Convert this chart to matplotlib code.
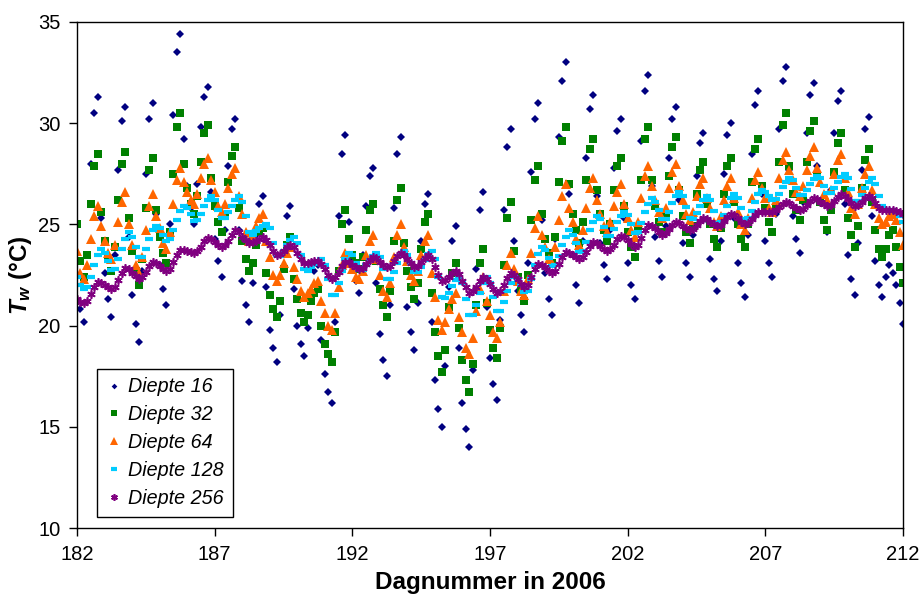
import matplotlib
matplotlib.use('Agg')
import matplotlib.pyplot as plt
import numpy as np

plt.rcParams['font.family'] = ['Liberation Sans', 'DejaVu Sans']
plt.rcParams['mathtext.fontset'] = 'custom'
plt.rcParams['mathtext.it'] = 'Liberation Sans:italic:bold'
plt.rcParams['mathtext.rm'] = 'Liberation Sans:bold'
plt.rcParams['mathtext.bf'] = 'Liberation Sans:bold'

# ---- data: water temperature, 3-hourly readings (8 per day), day 182.0 .. 212.0 ----
first_day = 182
samples_per_day = 8

diepte_16 = [
    22.5, 20.8, 20.2, 23.5, 28.0, 30.5, 31.3, 25.3,
    22.6, 21.3, 20.4, 23.5, 27.7, 30.1, 30.8, 24.4,
    21.5, 20.1, 19.2, 22.7, 27.5, 30.2, 31.0, 25.5,
    23.0, 21.8, 21.0, 25.0, 30.4, 33.5, 34.4, 29.2,
    26.9, 25.8, 25.0, 27.0, 29.8, 31.3, 31.8, 26.6,
    24.3, 23.2, 22.4, 24.7, 27.9, 29.7, 30.2, 24.7,
    22.2, 21.0, 20.2, 22.1, 24.5, 26.0, 26.4, 21.9,
    19.8, 18.9, 18.2, 20.5, 23.6, 25.4, 25.9, 21.8,
    20.0, 19.1, 18.5, 19.9, 21.7, 22.7, 23.0, 19.3,
    17.6, 16.7, 16.2, 20.2, 25.4, 28.5, 29.4, 25.1,
    23.2, 22.2, 21.6, 23.5, 25.9, 27.4, 27.8, 22.1,
    19.6, 18.3, 17.5, 21.0, 25.8, 28.5, 29.3, 23.5,
    20.9, 19.7, 18.8, 21.1, 24.2, 26.0, 26.5, 20.2,
    17.3, 15.9, 15.0, 18.0, 21.9, 24.2, 24.9, 18.9,
    16.2, 14.9, 14.0, 17.8, 22.8, 25.7, 26.6, 20.9,
    18.4, 17.1, 16.3, 20.3, 25.7, 28.8, 29.7, 24.2,
    21.7, 20.5, 19.7, 23.1, 27.6, 30.2, 31.0, 25.2,
    22.6, 21.3, 20.5, 24.3, 29.3, 32.1, 33.0, 26.5,
    23.5, 22.0, 21.1, 24.2, 28.3, 30.7, 31.4, 26.4,
    24.1, 23.0, 22.3, 24.7, 27.8, 29.6, 30.2, 25.3,
    23.1, 22.0, 21.3, 24.6, 29.1, 31.6, 32.4, 26.9,
    24.4, 23.2, 22.4, 24.9, 28.3, 30.2, 30.8, 26.2,
    24.1, 23.1, 22.4, 24.5, 27.4, 29.0, 29.5, 25.2,
    23.3, 22.3, 21.7, 24.2, 27.5, 29.4, 30.0, 25.3,
    23.1, 22.1, 21.4, 24.5, 28.5, 30.9, 31.6, 26.5,
    24.2, 23.1, 22.4, 25.5, 29.7, 32.1, 32.8, 27.7,
    25.4, 24.3, 23.6, 26.1, 29.5, 31.4, 32.0, 27.9,
    26.1, 25.2, 24.6, 26.7, 29.5, 31.1, 31.6, 26.0,
    23.5, 22.3, 21.5, 24.1, 27.7, 29.7, 30.3, 25.4,
    23.2, 22.0, 21.4, 22.4, 23.0, 22.6, 22.0, 21.1,
    20.1,
]

diepte_32 = [
    25.0, 23.2, 22.4, 23.5, 26.0, 27.9, 28.5, 25.6,
    24.2, 23.3, 22.7, 23.9, 26.2, 28.0, 28.6, 25.3,
    23.7, 22.7, 22.0, 23.3, 25.8, 27.7, 28.3, 25.7,
    24.4, 23.6, 23.1, 24.6, 27.5, 29.8, 30.5, 28.0,
    26.8, 26.0, 25.5, 26.4, 28.1, 29.5, 29.9, 27.3,
    25.9, 25.1, 24.6, 25.4, 27.1, 28.4, 28.8, 25.8,
    24.2, 23.3, 22.7, 23.1, 24.0, 24.6, 24.8, 22.6,
    21.5, 20.8, 20.4, 21.2, 22.8, 24.0, 24.4, 22.3,
    21.3, 20.6, 20.2, 20.5, 21.2, 21.6, 21.8, 20.0,
    19.1, 18.6, 18.2, 19.7, 22.7, 25.0, 25.7, 24.3,
    23.5, 23.1, 22.8, 23.4, 24.7, 25.7, 26.0, 23.2,
    21.8, 21.0, 20.4, 21.7, 24.2, 26.2, 26.8, 24.1,
    22.7, 21.9, 21.3, 22.1, 23.8, 25.1, 25.5, 21.6,
    19.7, 18.5, 17.7, 18.8, 20.9, 22.6, 23.1, 19.9,
    18.3, 17.3, 16.7, 18.1, 21.0, 23.1, 23.8, 21.1,
    19.8, 18.9, 18.4, 19.9, 23.0, 25.3, 26.1, 23.7,
    22.4, 21.7, 21.2, 22.5, 25.2, 27.2, 27.9, 25.5,
    24.3, 23.6, 23.1, 24.4, 27.1, 29.1, 29.8, 27.0,
    25.5, 24.7, 24.1, 25.1, 27.2, 28.7, 29.2, 26.7,
    25.5, 24.7, 24.2, 25.0, 26.7, 27.9, 28.3, 25.9,
    24.6, 23.9, 23.4, 24.7, 27.2, 29.2, 29.8, 27.2,
    25.9, 25.1, 24.6, 25.5, 27.4, 28.8, 29.3, 26.7,
    25.4, 24.6, 24.1, 24.9, 26.5, 27.7, 28.1, 26.0,
    25.0, 24.3, 23.9, 24.8, 26.5, 27.9, 28.3, 26.1,
    25.0, 24.3, 23.9, 25.0, 27.1, 28.7, 29.2, 26.9,
    25.8, 25.1, 24.6, 25.8, 28.1, 29.9, 30.5, 27.9,
    26.5, 25.7, 25.2, 26.2, 28.1, 29.6, 30.1, 27.4,
    26.1, 25.2, 24.7, 25.7, 27.6, 29.0, 29.5, 26.7,
    25.3, 24.5, 23.9, 24.9, 26.8, 28.2, 28.7, 26.1,
    24.7, 23.8, 23.4, 23.8, 24.5, 24.7, 23.9, 22.9,
    22.1,
]

diepte_64 = [
    23.7, 22.6, 22.3, 23.0, 24.3, 25.4, 25.9, 24.9,
    24.2, 23.6, 23.3, 24.0, 25.1, 26.1, 26.6, 25.0,
    24.0, 23.0, 22.6, 23.4, 24.7, 25.9, 26.5, 25.4,
    24.8, 24.1, 23.8, 24.6, 26.0, 27.2, 27.8, 27.1,
    26.6, 26.2, 26.0, 26.5, 27.3, 28.0, 28.3, 27.2,
    26.6, 25.9, 25.6, 26.0, 26.8, 27.5, 27.8, 26.4,
    25.5, 24.6, 24.2, 24.5, 24.9, 25.3, 25.5, 24.2,
    23.4, 22.5, 22.2, 22.5, 23.1, 23.6, 23.9, 22.9,
    22.3, 21.7, 21.4, 21.6, 21.8, 22.1, 22.2, 21.2,
    20.6, 20.0, 19.8, 20.6, 21.9, 23.0, 23.6, 23.1,
    22.8, 22.4, 22.3, 22.7, 23.5, 24.2, 24.5, 23.3,
    22.5, 21.7, 21.4, 22.1, 23.4, 24.5, 25.0, 23.9,
    23.2, 22.5, 22.2, 22.7, 23.5, 24.2, 24.5, 22.6,
    21.4, 20.3, 19.8, 20.2, 20.8, 21.3, 21.6, 20.4,
    19.7, 18.9, 18.6, 19.4, 20.7, 21.8, 22.4, 21.2,
    20.5, 19.7, 19.4, 20.2, 21.7, 23.0, 23.6, 22.8,
    22.2, 21.7, 21.5, 22.3, 23.6, 24.8, 25.4, 24.5,
    23.9, 23.3, 23.1, 23.9, 25.2, 26.4, 27.0, 25.8,
    25.1, 24.3, 24.0, 24.7, 25.8, 26.8, 27.3, 26.2,
    25.5, 24.9, 24.6, 25.1, 25.9, 26.6, 27.0, 26.0,
    25.3, 24.7, 24.4, 25.1, 26.3, 27.4, 27.9, 26.9,
    26.2, 25.6, 25.3, 25.8, 26.8, 27.6, 28.0, 26.9,
    26.2, 25.5, 25.2, 25.6, 26.4, 27.0, 27.3, 26.3,
    25.8, 25.1, 24.9, 25.4, 26.2, 26.9, 27.3, 26.3,
    25.6, 25.0, 24.7, 25.3, 26.3, 27.2, 27.6, 26.8,
    26.3, 25.8, 25.6, 26.2, 27.3, 28.2, 28.6, 27.7,
    27.2, 26.6, 26.4, 26.9, 27.7, 28.4, 28.8, 27.8,
    27.1, 26.5, 26.2, 26.7, 27.5, 28.2, 28.5, 27.3,
    26.6, 25.8, 25.5, 26.0, 26.8, 27.5, 27.9, 26.7,
    26.0, 25.3, 25.0, 25.1, 25.4, 25.5, 25.2, 24.6,
    24.0,
]

diepte_128 = [
    22.4, 22.0, 21.8, 21.9, 22.4, 23.0, 23.5, 23.8,
    23.6, 23.2, 22.75, 22.8, 23.3, 23.8, 24.3, 24.6,
    24.4, 23.9, 23.4, 23.4, 23.8, 24.3, 24.7, 24.9,
    24.8, 24.5, 24.2, 24.3, 24.7, 25.2, 25.65, 25.9,
    25.8, 25.5, 25.15, 25.2, 25.5, 25.9, 26.2, 26.4,
    26.2, 25.7, 25.3, 25.3, 25.6, 25.9, 26.2, 26.4,
    26.1, 25.4, 24.6, 24.5, 24.65, 24.8, 24.9, 25.0,
    24.8, 24.1, 23.5, 23.45, 23.7, 24.0, 24.25, 24.4,
    24.1, 23.5, 22.8, 22.7, 22.9, 23.05, 23.2, 23.3,
    23.0, 22.3, 21.5, 21.5, 22.1, 22.7, 23.3, 23.6,
    23.5, 23.1, 22.75, 22.75, 23.0, 23.25, 23.45, 23.6,
    23.4, 22.8, 22.3, 22.3, 22.65, 23.1, 23.5, 23.7,
    23.5, 23.1, 22.65, 22.65, 22.9, 23.25, 23.55, 23.7,
    23.3, 22.4, 21.4, 21.35, 21.6, 21.95, 22.25, 22.4,
    22.1, 21.3, 20.5, 20.5, 21.0, 21.6, 22.1, 22.4,
    22.1, 21.4, 20.7, 20.7, 21.15, 21.7, 22.1, 22.4,
    22.3, 22.0, 21.65, 21.7, 22.3, 23.0, 23.55, 23.9,
    23.75, 23.35, 22.95, 23.0, 23.45, 24.0, 24.4, 24.7,
    24.5, 24.1, 23.65, 23.7, 24.15, 24.7, 25.1, 25.4,
    25.25, 24.85, 24.45, 24.45, 24.75, 25.1, 25.4, 25.6,
    25.45, 25.0, 24.55, 24.6, 25.05, 25.6, 26.0, 26.3,
    26.1, 25.7, 25.25, 25.25, 25.6, 26.05, 26.4, 26.6,
    26.4, 25.85, 25.3, 25.25, 25.55, 25.9, 26.2, 26.4,
    26.2, 25.65, 25.05, 25.1, 25.45, 25.9, 26.3, 26.5,
    26.3, 25.8, 25.25, 25.3, 25.65, 26.1, 26.5, 26.7,
    26.6, 26.4, 26.2, 26.25, 26.5, 26.85, 27.1, 27.3,
    27.2, 26.8, 26.45, 26.45, 26.7, 27.0, 27.25, 27.4,
    27.3, 26.9, 26.55, 26.55, 26.8, 27.1, 27.35, 27.5,
    27.3, 26.75, 26.15, 26.15, 26.45, 26.8, 27.1, 27.3,
    27.0, 26.4, 25.9, 25.7, 25.7, 25.7, 25.6, 25.4,
    25.1,
]

diepte_256 = [
    21.3, 21.15, 21.1, 21.2, 21.55, 21.9, 22.15, 22.1,
    22.0, 21.9, 21.8, 21.9, 22.25, 22.6, 22.85, 22.8,
    22.6, 22.45, 22.3, 22.4, 22.65, 22.95, 23.15, 23.1,
    22.95, 22.8, 22.7, 22.8, 23.15, 23.5, 23.75, 23.75,
    23.7, 23.65, 23.6, 23.7, 23.9, 24.2, 24.35, 24.3,
    24.15, 24.0, 23.9, 24.0, 24.2, 24.5, 24.7, 24.6,
    24.4, 24.25, 24.1, 24.15, 24.2, 24.3, 24.4, 24.25,
    24.0, 23.7, 23.5, 23.55, 23.7, 23.9, 24.0, 23.9,
    23.6, 23.3, 23.1, 23.1, 23.15, 23.2, 23.2, 23.05,
    22.8, 22.5, 22.3, 22.4, 22.65, 22.95, 23.15, 23.15,
    23.0, 22.9, 22.8, 22.85, 23.05, 23.25, 23.4, 23.35,
    23.15, 23.0, 22.9, 22.95, 23.2, 23.45, 23.6, 23.5,
    23.3, 23.1, 22.9, 22.95, 23.15, 23.35, 23.5, 23.3,
    22.9, 22.5, 22.2, 22.25, 22.4, 22.6, 22.7, 22.55,
    22.2, 21.9, 21.6, 21.7, 21.9, 22.2, 22.4, 22.3,
    22.05, 21.8, 21.6, 21.7, 22.0, 22.35, 22.6, 22.5,
    22.3, 22.05, 21.9, 22.0, 22.4, 22.8, 23.05, 23.0,
    22.9, 22.7, 22.6, 22.7, 23.05, 23.4, 23.65, 23.6,
    23.5, 23.4, 23.3, 23.4, 23.65, 23.95, 24.15, 24.1,
    23.95, 23.8, 23.7, 23.8, 24.0, 24.3, 24.45, 24.4,
    24.25, 24.05, 23.9, 24.0, 24.35, 24.7, 24.95, 24.9,
    24.8, 24.6, 24.5, 24.55, 24.75, 24.95, 25.1, 25.05,
    24.9, 24.8, 24.7, 24.75, 24.95, 25.15, 25.3, 25.25,
    25.1, 25.0, 24.9, 24.95, 25.15, 25.35, 25.5, 25.45,
    25.3, 25.1, 25.0, 25.05, 25.25, 25.45, 25.6, 25.6,
    25.6, 25.6, 25.6, 25.7, 25.85, 26.0, 26.1, 26.05,
    25.9, 25.8, 25.7, 25.75, 25.95, 26.15, 26.3, 26.25,
    26.1, 26.0, 25.9, 25.95, 26.15, 26.35, 26.5, 26.4,
    26.25, 26.05, 25.9, 25.95, 26.1, 26.3, 26.4, 26.3,
    26.05, 25.8, 25.7, 25.7, 25.7, 25.7, 25.65, 25.6,
    25.5,
]

series_labels = ['Diepte 16', 'Diepte 32', 'Diepte 64', 'Diepte 128', 'Diepte 256']
x_ticks = [182, 187, 192, 197, 202, 207, 212]
y_ticks = [10, 15, 20, 25, 30, 35]

# ---- figure ----
fig = plt.figure(figsize=(9.19, 5.94), dpi=100)
ax = fig.add_axes([0.0838, 0.1111, 0.8988, 0.8519])

all_series = [diepte_16, diepte_32, diepte_64, diepte_128, diepte_256]
styles = [
    dict(marker='D', color='#000080', ms=3.6, mew=0),
    dict(marker='s', color='#008000', ms=6.0, mew=0),
    dict(marker='^', color='#FF6600', ms=6.5, mew=0),
    dict(marker='_', color='#00CCFF', ms=5.5, mew=3.0),
    dict(marker=(6, 2, 0), color='#800080', ms=6.0, mew=1.2),
]

for vals, lab, st in zip(all_series, series_labels, styles):
    t = first_day + np.arange(len(vals)) / samples_per_day
    ax.plot(t, vals, linestyle='none', marker=st['marker'], color=st['color'],
            markersize=st['ms'], markeredgewidth=st['mew'],
            markerfacecolor=st['color'], markeredgecolor=st['color'], label=lab)

ax.set_xlim(182, 212)
ax.set_ylim(10, 35)
ax.set_xticks(x_ticks)
ax.set_yticks(y_ticks)
ax.tick_params(direction='out', length=6, width=1, labelsize=14.5, pad=6)
for sp in ax.spines.values():
    sp.set_color('black')
    sp.set_linewidth(1.0)

ax.set_xlabel('Dagnummer in 2006', fontsize=17.5, fontweight='bold', labelpad=5)
ax.set_ylabel(r'$T_w$ (°C)', fontsize=17.5, fontweight='bold', labelpad=3)

leg = ax.legend(loc='lower left', bbox_to_anchor=(0.024, 0.022), borderaxespad=0,
                prop={'style': 'italic', 'size': 14.2}, frameon=True, fancybox=False,
                edgecolor='black', framealpha=1, handlelength=0.8, handletextpad=0.35,
                labelspacing=0.45, borderpad=0.45, markerscale=0.8)
leg.get_frame().set_linewidth(1.0)

fig.savefig('out.png', dpi=100)
